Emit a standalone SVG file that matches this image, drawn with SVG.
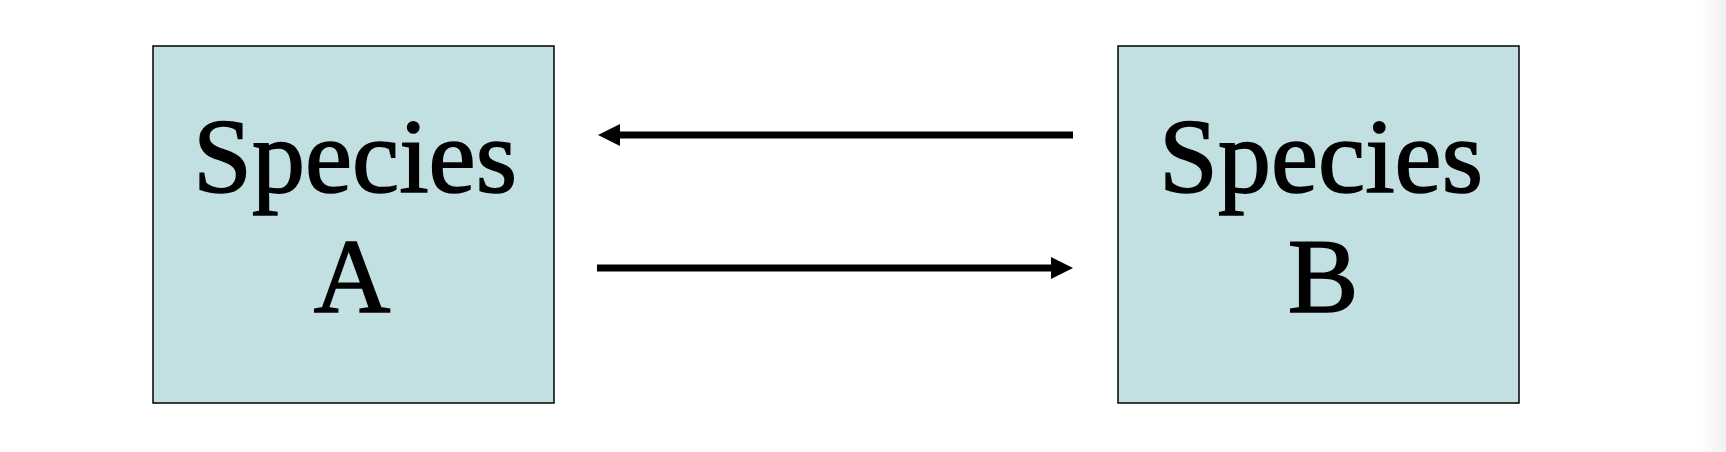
<svg xmlns="http://www.w3.org/2000/svg" width="1726" height="452" viewBox="0 0 1726 452">
  <style>
    .box { fill: #c2e0e2; stroke: #000; stroke-width: 1.5; }
    .lbl { font-family: "Liberation Serif", "Times New Roman", serif; font-size: 106px; fill: #000; stroke: #000; stroke-width: 1.6; text-anchor: middle; }
    .conn { stroke: #000; stroke-width: 7; fill: none; }
    .head { fill: #000; }
  </style>
  <defs>
    <linearGradient id="edge" x1="0" y1="0" x2="1" y2="0">
      <stop offset="0" stop-color="#ffffff"/>
      <stop offset="1" stop-color="#f0f0f0"/>
    </linearGradient>
  </defs>
  <rect x="0" y="0" width="1726" height="452" fill="#ffffff"/>
  <rect x="1700" y="0" width="26" height="452" fill="url(#edge)"/>
  <g id="speciesA">
    <rect class="box" x="153" y="46" width="401" height="357"/>
    <text class="lbl" x="355" y="192">Species</text>
    <text class="lbl" x="352" y="312">A</text>
  </g>
  <g id="speciesB">
    <rect class="box" x="1118" y="46" width="401" height="357"/>
    <text class="lbl" x="1321" y="192">Species</text>
    <text class="lbl" x="1323" y="312">B</text>
  </g>
  <g id="connectors">
    <line class="conn" x1="1073" y1="135" x2="617" y2="135"/>
    <polygon class="head" points="598,135 620,124 620,146"/>
    <line class="conn" x1="597" y1="268" x2="1053" y2="268"/>
    <polygon class="head" points="1073,268 1051,257 1051,279"/>
  </g>
</svg>
